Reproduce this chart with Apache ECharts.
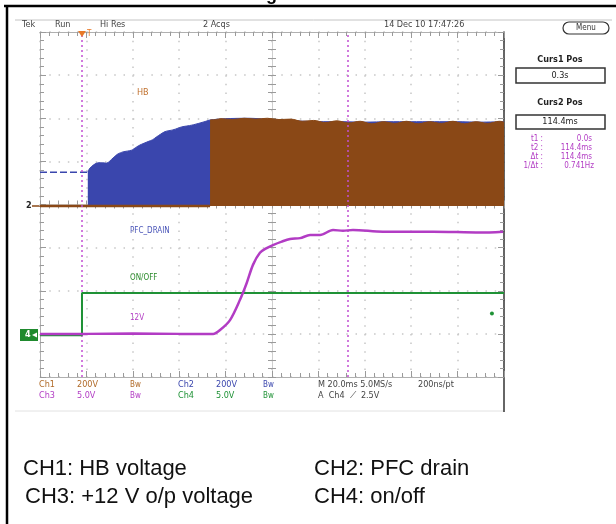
<!DOCTYPE html>
<html><head><meta charset="utf-8">
<script src="https://cdn.jsdelivr.net/npm/echarts@6/dist/echarts.min.js"></script>
<style>html,body{margin:0;padding:0;background:#fff}#c{width:616px;height:524px}</style>
</head><body><div id="c"></div>
<script>
// ---- axis scales (time in ms, vertical in scope divisions) ----
const timeMin = 0, timeMax = 200, timeStep = 20;
const divMin = 0, divMax = 8, divStep = 1;

// ---- CH1: HB voltage (brown) ----
const hbBaseT = [0, 73.3];
const hbBaseV = [3.965, 3.965];
const hbTopT = [73.3, 76, 78, 83, 88, 93, 98, 103, 108, 113, 118, 123, 128, 133, 138, 143, 148, 153, 158, 163, 168, 173, 178, 183, 188, 193, 198, 200];
const hbTopV = [5.96, 5.97, 5.99, 5.97, 6.00, 5.98, 6.00, 5.97, 5.98, 5.93, 5.95, 5.90, 5.94, 5.89, 5.93, 5.87, 5.92, 5.88, 5.93, 5.87, 5.92, 5.88, 5.93, 5.87, 5.92, 5.88, 5.93, 5.91];
const groundLevel = 3.965;

// ---- CH2: PFC drain (blue) ----
const pfcPreT = [0, 20.6];
const pfcPreV = [4.75, 4.75];
const pfcTopT = [20.6, 21.6, 24.4, 26.5, 28.7, 31.5, 33.5, 35.8, 39.5, 41.5, 43.1, 46.6, 48.5, 50.3, 53.9, 57.3, 59.5, 61.1, 65.4, 69.0, 71.5, 73.3, 80, 90, 100, 110, 120, 130, 140, 150, 160, 170, 180, 190, 200];
const pfcTopV = [4.75, 4.85, 4.96, 4.97, 4.96, 5.08, 5.17, 5.22, 5.26, 5.33, 5.38, 5.46, 5.50, 5.57, 5.69, 5.73, 5.77, 5.80, 5.84, 5.89, 5.93, 5.96, 5.99, 6.00, 5.97, 5.94, 5.92, 5.92, 5.91, 5.92, 5.92, 5.92, 5.92, 5.91, 5.92];

// ---- CH4: on/off (green) ----
const onoffT = [0, 18.1, 18.1, 200];
const onoffV = [0.97, 0.97, 1.95, 1.95];
const trigLevelPoint = [194.8, 1.47];

// ---- CH3: +12 V output (magenta) ----
const v12T = [0, 20, 40, 60, 74.6, 77.6, 81.9, 86.2, 89.1, 91.8, 94.8, 97.7, 100.4, 104.2, 107.8, 112.1, 116.4, 120.7, 126.3, 130.6, 134.9, 147.8, 169.4, 189.7, 199.6];
const v12V = [1.0, 1.0, 1.01, 1.0, 1.0, 1.09, 1.32, 1.79, 2.18, 2.60, 2.88, 2.99, 3.06, 3.14, 3.20, 3.22, 3.29, 3.29, 3.41, 3.39, 3.41, 3.37, 3.37, 3.35, 3.37];

// ---- cursors ----
const cursorT = [18.1, 132.5];
const triggerT = 18.1;

const zip = (a, b) => a.map((v, i) => [v, b[i]]);

const BROWN = '#8a4816', BLUE = '#3a46ad', GREEN = '#1f9236', MAG = '#b23cc4';
const F = '"Liberation Sans Narrow","DejaVu Sans Condensed","Liberation Sans",sans-serif';
const DOT = '#c6c6c6', TICK = '#9a9a9a';

function xAx(extra) {
  return Object.assign({
    type: 'value', min: timeMin, max: timeMax, interval: timeStep,
    axisLabel: { show: false }, splitLine: { show: false },
    axisLine: { show: true, onZero: false, lineStyle: { color: '#b0b0b0', width: 1 } },
    axisTick: { show: true, inside: true, length: 6, lineStyle: { color: TICK } },
    minorTick: { show: true, splitNumber: 5, length: 4, lineStyle: { color: TICK } }
  }, extra);
}
function yAx(extra) {
  return Object.assign({
    type: 'value', min: divMin, max: divMax, interval: divStep,
    axisLabel: { show: false }, splitLine: { show: false },
    axisLine: { show: true, onZero: false, lineStyle: { color: '#b0b0b0', width: 1 } },
    axisTick: { show: true, inside: true, length: 6, lineStyle: { color: TICK } },
    minorTick: { show: true, splitNumber: 5, length: 4, lineStyle: { color: TICK } }
  }, extra);
}

const txt = (x, y, s, o) => ({ type: 'text', x, y, silent: true, style: Object.assign({ text: s, font: '9px ' + F, fill: '#444', verticalAlign: 'middle' }, o || {}) });
const line = (x1, y1, x2, y2, c, w) => ({ type: 'line', silent: true, shape: { x1, y1, x2, y2 }, style: { stroke: c, lineWidth: w } });

const graphics = [
  line(4, 6, 616, 6, '#000', 2.5),
  line(7, 5, 7, 524, '#000', 2.5),
  { type: 'text', x: 266, y: -14, silent: true, style: { text: 'g', font: 'bold 18px "Liberation Sans",sans-serif', fill: '#000' } },
  line(15, 20, 612, 20, '#c4c4c4', 1),
  line(15, 411, 504, 411, '#e2e2e2', 1),
  line(504, 377, 504, 412, '#333', 1.5),
  txt(22, 25, 'Tek'), txt(55, 25, 'Run'), txt(100, 25, 'Hi Res'), txt(203, 25, '2 Acqs'),
  txt(384, 25, '14 Dec 10 17:47:26'),
  { type: 'rect', silent: true, shape: { x: 563, y: 22, width: 46, height: 12, r: 6 }, style: { fill: '#fff', stroke: '#333', lineWidth: 1.2 } },
  txt(586, 28, 'Menu', { align: 'center', font: '8px ' + F, fill: '#333' }),
  txt(560, 60, 'Curs1 Pos', { align: 'center', font: 'bold 9px ' + F, fill: '#222' }),
  { type: 'rect', silent: true, shape: { x: 516, y: 68, width: 89, height: 15 }, style: { fill: '#fff', stroke: '#333', lineWidth: 1.5 } },
  txt(560, 76, '0.3s', { align: 'center', font: '9px ' + F, fill: '#222' }),
  txt(560, 103, 'Curs2 Pos', { align: 'center', font: 'bold 9px ' + F, fill: '#222' }),
  { type: 'rect', silent: true, shape: { x: 516, y: 115, width: 89, height: 14 }, style: { fill: '#fff', stroke: '#333', lineWidth: 1.5 } },
  txt(560, 122, '114.4ms', { align: 'center', font: '9px ' + F, fill: '#222' }),
  txt(543, 139, 't1 :', { align: 'right', font: '8px ' + F, fill: MAG }),
  txt(543, 148, 't2 :', { align: 'right', font: '8px ' + F, fill: MAG }),
  txt(543, 157, 'Δt :', { align: 'right', font: '8px ' + F, fill: MAG }),
  txt(543, 166, '1/Δt :', { align: 'right', font: '8px ' + F, fill: MAG }),
  txt(592, 139, '0.0s', { align: 'right', font: '8px ' + F, fill: MAG }),
  txt(592, 148, '114.4ms', { align: 'right', font: '8px ' + F, fill: MAG }),
  txt(592, 157, '114.4ms', { align: 'right', font: '8px ' + F, fill: MAG }),
  txt(594, 166, '0.741Hz', { align: 'right', font: '8px ' + F, fill: MAG }),
  // channel labels inside plot
  txt(137, 93, 'HB', { font: '9px ' + F, fill: '#c0712e' }),
  txt(130, 231, 'PFC_DRAIN', { font: '8px ' + F, fill: '#4a55b8' }),
  txt(130, 278, 'ON/OFF', { font: '8px ' + F, fill: '#2a8a2a' }),
  txt(130, 318, '12V', { font: '8px ' + F, fill: MAG }),
  // ground markers
  txt(26, 206, '2', { font: 'bold 9px ' + F, fill: '#222' }),
  line(32, 206, 40, 206, BROWN, 1.5),
  { type: 'rect', silent: true, shape: { x: 20, y: 329, width: 18, height: 12 }, style: { fill: '#1f8a2e' } },
  txt(25, 335, '4', { font: 'bold 9px ' + F, fill: '#fff' }),
  { type: 'polygon', silent: true, shape: { points: [[32, 335], [37, 332.5], [37, 337.5]] }, style: { fill: '#fff' } },
  // bottom info rows
  txt(39, 385, 'Ch1', { fill: '#b06a28' }), txt(77, 385, '200V', { fill: '#b06a28' }), txt(130, 385, 'Bw', { fill: '#b06a28', font: '8px ' + F }),
  txt(178, 385, 'Ch2', { fill: BLUE }), txt(216, 385, '200V', { fill: BLUE }), txt(263, 385, 'Bw', { fill: BLUE, font: '8px ' + F }),
  txt(318, 385, 'M 20.0ms 5.0MS/s', { fill: '#444' }), txt(418, 385, '200ns/pt', { fill: '#444' }),
  txt(39, 396, 'Ch3', { fill: MAG }), txt(77, 396, '5.0V', { fill: MAG }), txt(130, 396, 'Bw', { fill: MAG, font: '8px ' + F }),
  txt(178, 396, 'Ch4', { fill: GREEN }), txt(216, 396, '5.0V', { fill: GREEN }), txt(263, 396, 'Bw', { fill: GREEN, font: '8px ' + F }),
  txt(318, 396, 'A  Ch4  ⟋  2.5V', { fill: '#444' }),
  // captions
  txt(23, 469, 'CH1: HB voltage', { font: '22px "Liberation Sans",Arial,sans-serif', fill: '#111' }),
  txt(25, 497, 'CH3: +12 V o/p voltage', { font: '22px "Liberation Sans",Arial,sans-serif', fill: '#111' }),
  txt(314, 469, 'CH2: PFC drain', { font: '22px "Liberation Sans",Arial,sans-serif', fill: '#111' }),
  txt(314, 497, 'CH4: on/off', { font: '22px "Liberation Sans",Arial,sans-serif', fill: '#111' })
];

const option = {
  animation: false,
  backgroundColor: '#fff',
  grid: { left: 40, top: 32, width: 464, height: 345, containLabel: false },
  xAxis: [
    xAx({ position: 'bottom', splitLine: { show: true, lineStyle: { color: DOT, width: 1.5, type: [1.5, 7.125] } } }),
    xAx({ position: 'top' }),
    xAx({ position: 'bottom', offset: -172.5, axisLine: { show: true, onZero: false, lineStyle: { color: '#cfcfcf' } }, axisTick: { show: true, inside: true, length: 4, lineStyle: { color: TICK } }, minorTick: { show: true, splitNumber: 5, length: 4, lineStyle: { color: TICK } } }),
    xAx({ position: 'bottom', offset: -172.5, axisLine: { show: false }, axisTick: { show: true, inside: false, length: 4, lineStyle: { color: TICK } }, minorTick: { show: true, splitNumber: 5, length: 4, lineStyle: { color: TICK } } })
  ],
  yAxis: [
    yAx({ position: 'left', splitLine: { show: true, lineStyle: { color: DOT, width: 1.5, type: [1.5, 7.78] } } }),
    yAx({ position: 'right', axisLine: { show: true, onZero: false, lineStyle: { color: '#333', width: 1.5 } } }),
    yAx({ position: 'left', offset: -232, axisLine: { show: true, onZero: false, lineStyle: { color: '#cfcfcf' } }, axisTick: { show: true, inside: true, length: 4, lineStyle: { color: TICK } }, minorTick: { show: true, splitNumber: 5, length: 4, lineStyle: { color: TICK } } }),
    yAx({ position: 'left', offset: -232, axisLine: { show: false }, axisTick: { show: true, inside: false, length: 4, lineStyle: { color: TICK } }, minorTick: { show: true, splitNumber: 5, length: 4, lineStyle: { color: TICK } } })
  ],
  series: [
    { name: 'PFC drain', type: 'line', data: zip(pfcTopT, pfcTopV), showSymbol: false, smooth: 0.25, z: 2,
      lineStyle: { color: BLUE, width: 1 }, areaStyle: { color: BLUE, opacity: 1, origin: groundLevel } },
    { name: 'HB', type: 'line', data: zip(hbTopT, hbTopV), showSymbol: false, smooth: 0.35, z: 3,
      lineStyle: { color: BROWN, width: 1 }, areaStyle: { color: BROWN, opacity: 1, origin: groundLevel } },
    { name: 'HB base', type: 'line', data: zip(hbBaseT, hbBaseV), showSymbol: false, z: 4,
      lineStyle: { color: BROWN, width: 2.5 } },
    { name: 'PFC pre', type: 'line', data: zip(pfcPreT, pfcPreV), showSymbol: false, z: 4,
      lineStyle: { color: BLUE, width: 1.5, type: [7, 3] } },
    { name: 'on/off', type: 'line', data: zip(onoffT, onoffV), showSymbol: false, z: 5,
      lineStyle: { color: GREEN, width: 2 },
      markPoint: { silent: true, symbol: 'circle', symbolSize: 4, itemStyle: { color: GREEN }, label: { show: false },
        data: [{ coord: trigLevelPoint }] } },
    { name: '12V', type: 'line', data: zip(v12T, v12V), showSymbol: false, smooth: 0.3, z: 6,
      lineStyle: { color: MAG, width: 2.5 },
      markLine: { silent: true, symbol: ['none', 'none'], label: { show: false },
        lineStyle: { color: '#c24fd2', width: 1.5, type: [2, 3] },
        data: cursorT.map(t => ({ xAxis: t })) },
      markPoint: { silent: true, symbol: 'triangle', symbolRotate: 180, symbolSize: [8, 6], symbolOffset: [0, 2],
        itemStyle: { color: '#e87a2a' },
        label: { show: true, formatter: 'T', position: 'right', distance: 1, color: '#e87a2a', fontSize: 8, fontFamily: F },
        data: [{ coord: [triggerT, divMax] }] } }
  ],
  graphic: graphics
};

const chart = echarts.init(document.getElementById('c'), null, { renderer: 'canvas', width: 616, height: 524 });
chart.setOption(option);
</script>
</body></html>
